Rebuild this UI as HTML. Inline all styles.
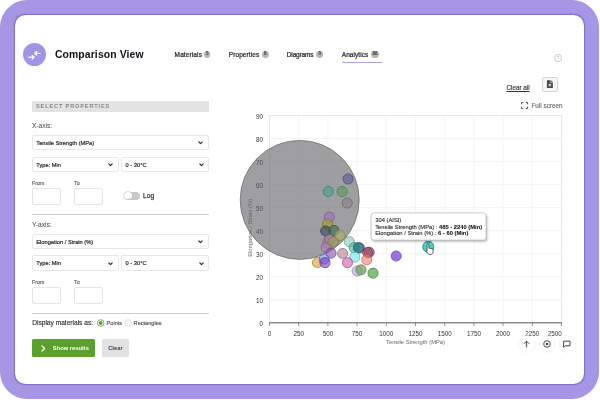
<!DOCTYPE html>
<html lang="en">
<head>
<meta charset="utf-8">
<title>Comparison View</title>
<style>
html,body{margin:0;padding:0;background:#fff;}
body{width:600px;height:400px;overflow:hidden;position:relative;font-family:"Liberation Sans",sans-serif;color:#222;}
.frame{position:absolute;left:-0.3px;top:0.3px;width:599.5px;height:399px;background:#a596e6;border-radius:27px;}
.card{position:absolute;left:14.7px;top:15px;width:569.6px;height:369px;background:#fff;border-radius:10.5px;box-shadow:0 0 1.2px 0.2px rgba(70,50,150,0.42);}
.abs{position:absolute;white-space:nowrap;}
.logo{left:22.8px;top:42.6px;width:23.4px;height:23.4px;border-radius:50%;background:#a193e6;}
.title{left:54.9px;top:48.2px;font-size:10.4px;font-weight:bold;color:#101018;line-height:13px;letter-spacing:0.12px;}
.tab{top:50.6px;font-size:6.5px;line-height:8px;color:#26262e;-webkit-text-stroke:0.22px #26262e;letter-spacing:0px;}
.badge{top:50.8px;height:6.8px;border-radius:3.4px;background:#b6b6b8;color:#3a3a3a;font-size:4.6px;line-height:6.9px;text-align:center;font-weight:bold;}
.uline{left:341.5px;top:62px;width:40.200px;height:1.400px;background:#aaa0e6;}
.bar{left:32px;top:101px;width:177px;height:11px;background:#e3e3e3;}
.bartxt{left:36px;top:103px;font-size:5.6px;line-height:7px;font-weight:bold;letter-spacing:0.85px;color:#8a8a8a;}
.lbl{font-size:6.6px;line-height:8px;color:#444;}
.sel{height:15.6px;border:0.8px solid #e7e7e7;border-radius:2px;background:#fff;box-sizing:border-box;font-size:5.7px;line-height:14px;color:#2a2a2a;-webkit-text-stroke:0.2px #2a2a2a;padding-left:3.3px;letter-spacing:0px;}
.chev{position:absolute;right:4.7px;top:5.4px;width:5px;height:4px;}
.small{font-size:5.3px;line-height:7px;color:#555;-webkit-text-stroke:0.12px #555;}
.inp{width:29.2px;height:16.8px;border:0.8px solid #e5e5e5;border-radius:2px;box-sizing:border-box;background:#fff;}
.hr{left:32px;width:177px;height:0.9px;background:#cfcfcf;}
.btn{top:339px;height:17.5px;border-radius:1.5px;font-size:5.8px;line-height:19.3px;font-weight:bold;}
</style>
</head>
<body>
<div class="frame"></div>
<div class="card"></div>

<!-- header -->
<div class="abs logo">
<svg width="23.4" height="23.4" viewBox="0 0 24 24" style="position:absolute;left:0;top:0">
<g stroke="#fff" stroke-width="1.3" fill="none" stroke-linecap="round" stroke-linejoin="round">
<path d="M5.900 14.600h5.400M9.400 12.700l2 1.900-2 1.900"/>
<path d="M17.500 10.600h-5.400M14 8.700l-2 1.900 2 1.900"/>
</g>
</svg>
</div>
<div class="abs title">Comparison View</div>

<div class="abs tab" style="left:174.6px;letter-spacing:0.12px">Materials</div>
<div class="abs badge" style="left:203.9px;width:6.600px">5</div>
<div class="abs tab" style="left:228.8px;letter-spacing:0.08px">Properties</div>
<div class="abs badge" style="left:262px;width:6.600px">8</div>
<div class="abs tab" style="left:286.8px;letter-spacing:-0.15px">Diagrams</div>
<div class="abs badge" style="left:316.4px;width:6.600px">0</div>
<div class="abs tab" style="left:341.8px;letter-spacing:0.05px">Analytics</div>
<div class="abs badge" style="left:370.7px;width:8.800px">88</div>
<div class="abs uline"></div>

<!-- help -->
<div class="abs" style="left:554px;top:54px;width:7.600px;height:7.600px;border:0.7px solid #c9c9c9;border-radius:50%;box-sizing:border-box;font-size:5px;line-height:6.200px;text-align:center;color:#c2c2c2;">?</div>

<!-- left panel -->
<div class="abs bar"></div>
<div class="abs bartxt">SELECT PROPERTIES</div>

<div class="abs lbl" style="left:32px;top:121.5px">X-axis:</div>
<div class="abs sel" style="left:32px;top:134.8px;width:177px">Tensile Strength (MPa)<svg class="chev" viewBox="0 0 5 4"><path d="M0.8 0.9L2.5 2.7L4.2 0.9" stroke="#222" stroke-width="1.1" fill="none" stroke-linecap="round" stroke-linejoin="round"/></svg></div>
<div class="abs sel" style="left:32px;top:156.5px;width:86.600px">Type: Min<svg class="chev" viewBox="0 0 5 4"><path d="M0.8 0.9L2.5 2.7L4.2 0.9" stroke="#222" stroke-width="1.1" fill="none" stroke-linecap="round" stroke-linejoin="round"/></svg></div>
<div class="abs sel" style="left:121.3px;top:156.5px;width:88px">0 - 30°C<svg class="chev" viewBox="0 0 5 4"><path d="M0.8 0.9L2.5 2.7L4.2 0.9" stroke="#222" stroke-width="1.1" fill="none" stroke-linecap="round" stroke-linejoin="round"/></svg></div>
<div class="abs small" style="left:32px;top:179.8px">From</div>
<div class="abs small" style="left:74px;top:179.8px">To</div>
<div class="abs inp" style="left:32px;top:188.3px"></div>
<div class="abs inp" style="left:73.7px;top:188.3px"></div>
<div class="abs" style="left:123.8px;top:191.5px;width:16px;height:8.600px;border-radius:4.300px;background:#c9c9c9;"></div>
<div class="abs" style="left:124.4px;top:192.100px;width:7.400px;height:7.400px;border-radius:50%;background:#fff;box-shadow:0 0 0 0.5px #bcbcbc;"></div>
<div class="abs" style="left:143.1px;top:191.7px;font-size:6.7px;line-height:8px;color:#333;-webkit-text-stroke:0.25px #333;">Log</div>

<div class="abs hr" style="top:213.8px"></div>

<div class="abs lbl" style="left:32px;top:221px">Y-axis:</div>
<div class="abs sel" style="left:32px;top:233.7px;width:177px">Elongation / Strain (%)<svg class="chev" viewBox="0 0 5 4"><path d="M0.8 0.9L2.5 2.7L4.2 0.9" stroke="#222" stroke-width="1.1" fill="none" stroke-linecap="round" stroke-linejoin="round"/></svg></div>
<div class="abs sel" style="left:32px;top:255.3px;width:86.600px">Type: Min<svg class="chev" viewBox="0 0 5 4"><path d="M0.8 0.9L2.5 2.7L4.2 0.9" stroke="#222" stroke-width="1.1" fill="none" stroke-linecap="round" stroke-linejoin="round"/></svg></div>
<div class="abs sel" style="left:121.3px;top:255.3px;width:88px">0 - 30°C<svg class="chev" viewBox="0 0 5 4"><path d="M0.8 0.9L2.5 2.7L4.2 0.9" stroke="#222" stroke-width="1.1" fill="none" stroke-linecap="round" stroke-linejoin="round"/></svg></div>
<div class="abs small" style="left:32px;top:278.9px">From</div>
<div class="abs small" style="left:74px;top:278.9px">To</div>
<div class="abs inp" style="left:32px;top:287.2px"></div>
<div class="abs inp" style="left:73.7px;top:287.2px"></div>

<div class="abs hr" style="top:312.8px"></div>

<div class="abs lbl" style="left:32.2px;top:319.3px;color:#333;-webkit-text-stroke:0.15px #333">Display materials as:</div>
<svg class="abs" style="left:96px;top:318.300px" width="10" height="10" viewBox="0 0 10 10"><circle cx="4.700" cy="5" r="3.300" fill="#fff" stroke="#5a9e2f" stroke-width="0.8"/><circle cx="4.700" cy="5" r="1.900" fill="#5a9e2f"/></svg>
<div class="abs small" style="left:106.6px;top:319.9px;font-size:5.6px;color:#444">Points</div>
<svg class="abs" style="left:123px;top:318.300px" width="10" height="10" viewBox="0 0 10 10"><circle cx="5.100" cy="5" r="3.300" fill="#fff" stroke="#d2d2d2" stroke-width="0.7"/></svg>
<div class="abs small" style="left:133.6px;top:319.9px;font-size:5.6px;color:#444">Rectangles</div>

<div class="abs btn" style="left:32px;width:62.7px;background:#5b9f2d;color:#fff;">
<svg style="position:absolute;left:9.2px;top:5.9px" width="5" height="7" viewBox="0 0 5 7"><path d="M1 1L3.600 3.500L1 6" stroke="#fff" stroke-width="1.300" fill="none" stroke-linecap="round" stroke-linejoin="round"/></svg>
<span style="position:absolute;left:20.8px;top:0">Show results</span></div>
<div class="abs btn" style="left:102px;width:26.8px;background:#e2e2e2;color:#444;text-align:center;">Clear</div>

<!-- right top -->
<div class="abs" style="left:506.5px;top:83.5px;font-size:6.3px;line-height:8px;color:#333;text-decoration:underline;text-decoration-thickness:0.6px;text-underline-offset:0.8px;-webkit-text-stroke:0.15px #333;">Clear all</div>
<div class="abs" style="left:542px;top:77.3px;width:16px;height:14.4px;border:0.8px solid #d4d4d4;border-radius:2px;box-sizing:border-box;background:#f6f6f6;"></div>
<svg class="abs" style="left:546.4px;top:79.8px" width="7.800" height="8.200" viewBox="0 0 7 8"><path d="M0.6 0.3h3.8l2 2v5.4h-5.8z" fill="#4a4a4a"/><path d="M4.2 0.5v2h2" stroke="#f6f6f6" stroke-width="0.5" fill="none"/><circle cx="3.5" cy="5" r="1.3" fill="#f6f6f6"/><path d="M3.5 4.2v1.5M2.9 5.2l0.6 0.6 0.6-0.6" stroke="#4a4a4a" stroke-width="0.5" fill="none"/></svg>
<svg class="abs" style="left:521px;top:102.4px" width="7" height="7" viewBox="0 0 7 7"><path d="M0.5 2.3V0.5h1.8M4.7 0.5h1.8v1.8M6.5 4.7v1.8H4.7M2.3 6.5H0.5V4.7" stroke="#444" stroke-width="0.9" fill="none"/></svg>
<div class="abs" style="left:531.4px;top:101.6px;font-size:6.4px;line-height:8px;color:#6a6a6a;-webkit-text-stroke:0.12px #6a6a6a;">Full screen</div>

<!-- chart -->
<svg class="abs" style="left:0;top:0" width="600" height="400" viewBox="0 0 600 400" font-family="Liberation Sans, sans-serif">
<rect x="269.5" y="115.5" width="292.0" height="207.3" fill="#fff" stroke="#e2e2e2" stroke-width="0.8"/>
<path d="M298.7 115.5V322.8M327.9 115.5V322.8M357.1 115.5V322.8M386.3 115.5V322.8M415.5 115.5V322.8M444.7 115.5V322.8M473.9 115.5V322.8M503.1 115.5V322.8M532.3 115.5V322.8" stroke="#f2f2f2" stroke-width="0.8" fill="none"/>
<path d="M269.5 299.8H561.5M269.5 276.7H561.5M269.5 253.7H561.5M269.5 230.7H561.5M269.5 207.6H561.5M269.5 184.6H561.5M269.5 161.6H561.5M269.5 138.5H561.5" stroke="#efefef" stroke-width="0.8" fill="none"/>
<path d="M269.5 322.8V326.0M298.7 322.8V326.0M327.9 322.8V326.0M357.1 322.8V326.0M386.3 322.8V326.0M415.5 322.8V326.0M444.7 322.8V326.0M473.9 322.8V326.0M503.1 322.8V326.0M532.3 322.8V326.0M561.5 322.8V326.0" stroke="#777" stroke-width="0.8" fill="none"/>
<path d="M269.1 322.8H561.9" stroke="#606060" stroke-width="1" fill="none"/>
<g font-size="6.3" fill="#333" text-anchor="end">
<text x="262.9" y="325.9">0</text>
<text x="262.9" y="302.9">10</text>
<text x="262.9" y="279.8">20</text>
<text x="262.9" y="256.8">30</text>
<text x="262.9" y="233.8">40</text>
<text x="262.9" y="210.7">50</text>
<text x="262.9" y="187.7">60</text>
<text x="262.9" y="164.7">70</text>
<text x="262.9" y="141.6">80</text>
<text x="262.9" y="118.6">90</text>
</g>
<g font-size="6.3" fill="#333" text-anchor="middle">
<text x="269.5" y="335.6">0</text>
<text x="298.7" y="335.6">250</text>
<text x="327.9" y="335.6">500</text>
<text x="357.1" y="335.6">750</text>
<text x="386.3" y="335.6">1000</text>
<text x="415.5" y="335.6">1250</text>
<text x="444.7" y="335.6">1500</text>
<text x="473.9" y="335.6">1750</text>
<text x="503.1" y="335.6">2000</text>
<text x="532.3" y="335.6">2250</text>
<text x="561.8" y="335.6" text-anchor="end">2500</text>
</g>
<text x="415.5" y="343.6" font-size="5.8" fill="#666" text-anchor="middle">Tensile Strength (MPa)</text>
<text transform="translate(251.7,227.8) rotate(-90)" font-size="5.8" fill="#666" text-anchor="middle">Elongation / Strain (%)</text>
<circle cx="299.7" cy="199.9" r="59.5" fill="#5f5f62" fill-opacity="0.6" stroke="#6c6c6c" stroke-width="0.8"/>
<circle cx="348" cy="179" r="5.1" fill="#5c5c9c" fill-opacity="0.62" stroke="#424270" stroke-opacity="0.75" stroke-width="0.9"/>
<circle cx="328.3" cy="191.5" r="5.1" fill="#3fa58c" fill-opacity="0.62" stroke="#2d7664" stroke-opacity="0.75" stroke-width="0.9"/>
<circle cx="342.2" cy="191.5" r="5.1" fill="#5c9a55" fill-opacity="0.62" stroke="#426e3d" stroke-opacity="0.75" stroke-width="0.9"/>
<circle cx="347.2" cy="203" r="5.1" fill="#8a8088" fill-opacity="0.62" stroke="#635c61" stroke-opacity="0.75" stroke-width="0.9"/>
<circle cx="329.3" cy="217.2" r="5.1" fill="#a070c0" fill-opacity="0.62" stroke="#73508a" stroke-opacity="0.75" stroke-width="0.9"/>
<circle cx="327.5" cy="224" r="5.1" fill="#a0a030" fill-opacity="0.62" stroke="#737322" stroke-opacity="0.75" stroke-width="0.9"/>
<circle cx="325.7" cy="231" r="5.1" fill="#3c4860" fill-opacity="0.62" stroke="#2b3345" stroke-opacity="0.75" stroke-width="0.9"/>
<circle cx="334" cy="230.5" r="5.1" fill="#3c6a4c" fill-opacity="0.62" stroke="#2b4c36" stroke-opacity="0.75" stroke-width="0.9"/>
<circle cx="340" cy="235.5" r="5.1" fill="#b0b068" fill-opacity="0.62" stroke="#7e7e4a" stroke-opacity="0.75" stroke-width="0.9"/>
<circle cx="327.5" cy="243" r="5.1" fill="#b080b0" fill-opacity="0.62" stroke="#7e5c7e" stroke-opacity="0.75" stroke-width="0.9"/>
<circle cx="326.3" cy="247.5" r="5.1" fill="#b080b0" fill-opacity="0.62" stroke="#7e5c7e" stroke-opacity="0.75" stroke-width="0.9"/>
<circle cx="329.5" cy="239.5" r="5.1" fill="#a878a8" fill-opacity="0.62" stroke="#785678" stroke-opacity="0.75" stroke-width="0.9"/>
<circle cx="333" cy="242" r="5.1" fill="#a0a050" fill-opacity="0.62" stroke="#737339" stroke-opacity="0.75" stroke-width="0.9"/>
<circle cx="349.3" cy="241.7" r="5.1" fill="#8cc8b4" fill-opacity="0.62" stroke="#649081" stroke-opacity="0.75" stroke-width="0.9"/>
<circle cx="354.2" cy="247.7" r="5.1" fill="#50b89c" fill-opacity="0.62" stroke="#398470" stroke-opacity="0.75" stroke-width="0.9"/>
<circle cx="359.4" cy="247.9" r="5.1" fill="#5040c0" fill-opacity="0.62" stroke="#392e8a" stroke-opacity="0.75" stroke-width="0.9"/>
<circle cx="358.3" cy="247.7" r="5.1" fill="#1f8a70" fill-opacity="0.62" stroke="#166350" stroke-opacity="0.75" stroke-width="0.9"/>
<circle cx="369.2" cy="252.3" r="5.1" fill="#6050c0" fill-opacity="0.62" stroke="#45398a" stroke-opacity="0.75" stroke-width="0.9"/>
<circle cx="367.7" cy="252.5" r="5.1" fill="#a83838" fill-opacity="0.62" stroke="#782828" stroke-opacity="0.75" stroke-width="0.9"/>
<circle cx="366.8" cy="259.7" r="5.1" fill="#f08070" fill-opacity="0.62" stroke="#ac5c50" stroke-opacity="0.75" stroke-width="0.9"/>
<circle cx="354.8" cy="257" r="5.1" fill="#70e8e8" fill-opacity="0.62" stroke="#50a7a7" stroke-opacity="0.75" stroke-width="0.9"/>
<circle cx="342.6" cy="253.5" r="5.1" fill="#b08090" fill-opacity="0.62" stroke="#7e5c67" stroke-opacity="0.75" stroke-width="0.9"/>
<circle cx="331" cy="253.2" r="5.1" fill="#9050b8" fill-opacity="0.62" stroke="#673984" stroke-opacity="0.75" stroke-width="0.9"/>
<circle cx="317.5" cy="262.5" r="5.1" fill="#d8a030" fill-opacity="0.62" stroke="#9b7322" stroke-opacity="0.75" stroke-width="0.9"/>
<circle cx="324.2" cy="259" r="5.1" fill="#6a8ae8" fill-opacity="0.62" stroke="#4c63a7" stroke-opacity="0.75" stroke-width="0.9"/>
<circle cx="325" cy="262.7" r="5.1" fill="#7a40d0" fill-opacity="0.62" stroke="#572e95" stroke-opacity="0.75" stroke-width="0.9"/>
<circle cx="347.5" cy="262.7" r="5.1" fill="#d060b0" fill-opacity="0.62" stroke="#95457e" stroke-opacity="0.75" stroke-width="0.9"/>
<circle cx="357.2" cy="271" r="5.1" fill="#b8a0e8" fill-opacity="0.62" stroke="#8473a7" stroke-opacity="0.75" stroke-width="0.9"/>
<circle cx="361" cy="269.8" r="5.1" fill="#78a868" fill-opacity="0.8" stroke="#56784a" stroke-opacity="0.75" stroke-width="0.9"/>
<circle cx="373" cy="273.2" r="5.1" fill="#58a850" fill-opacity="0.72" stroke="#3f7839" stroke-opacity="0.75" stroke-width="0.9"/>
<circle cx="396.2" cy="256" r="5.1" fill="#8a58de" fill-opacity="0.85" stroke="#633f9f" stroke-opacity="0.75" stroke-width="0.9"/>
<circle cx="428.3" cy="246.8" r="5.5" fill="#38c6be" fill-opacity="0.85" stroke="#23908a" stroke-width="1"/>
<defs><filter id="sh" x="-10%" y="-30%" width="120%" height="170%"><feGaussianBlur stdDeviation="1.1"/></filter></defs>
<rect x="372.2" y="214.8" width="115" height="27" rx="2.5" fill="#000" fill-opacity="0.28" filter="url(#sh)"/>
<rect x="371.1" y="212.9" width="114.9" height="27.2" rx="2.5" fill="#fff" stroke="#bdbdbd" stroke-width="0.8"/>
<g font-size="5.8" fill="#161616" stroke="#161616" stroke-width="0.08">
<text x="375.2" y="222.2">304 (AISI)</text>
<text x="375.2" y="228.5">Tensile Strength (MPa) : <tspan font-weight="bold">485 - 2240 (Min)</tspan></text>
<text x="375.2" y="234.7">Elongation / Strain (%) : <tspan font-weight="bold">6 - 60 (Min)</tspan></text>
</g>
<path d="M425.8 240.6L428.4 243.8L431 240.6" stroke="#1d7f7a" stroke-width="1" fill="none"/>
<g transform="translate(425.2,243.9) scale(0.56)"><path d="M5 1.2c1 0 1.7.7 1.7 1.7v5l.6-.1c.8-.6 1.9-.3 2.300.4.800-.5 1.900-.2 2.300.6.900-.3 1.900.2 2.100 1.200.2 1.200.3 3.500-.2 5.200-.4 1.500-1.300 2.700-2.300 3.500H6.300c-1.200-1.300-2.600-3.200-3.900-5.600-.6-1.100.4-2.100 1.500-1.500l-.600-.6V2.900c0-1 .7-1.700 1.700-1.700z" fill="#fff" stroke="#2a2a2a" stroke-width="1.300" stroke-linejoin="round"/></g>
<circle cx="526.6" cy="344" r="8.2" fill="#fff" stroke="#f0f0f0" stroke-width="0.8"/>
<circle cx="547" cy="344" r="8.2" fill="#fff" stroke="#f0f0f0" stroke-width="0.8"/>
<circle cx="566.8" cy="344" r="8.2" fill="#fff" stroke="#f0f0f0" stroke-width="0.8"/>
<path d="M526.6 347V341.300M524.300 343.500l2.300-2.300 2.300 2.300" stroke="#333" stroke-width="0.9" fill="none" stroke-linecap="round" stroke-linejoin="round"/>
<circle cx="547" cy="344" r="3.3" fill="none" stroke="#333" stroke-width="0.9"/><circle cx="547" cy="344" r="1.200" fill="#333"/>
<path d="M563.6 341.200h6.400v4.600h-4.800l-1.600 1.500z" stroke="#333" stroke-width="0.9" fill="none" stroke-linejoin="round"/>
</svg>

</body>
</html>
